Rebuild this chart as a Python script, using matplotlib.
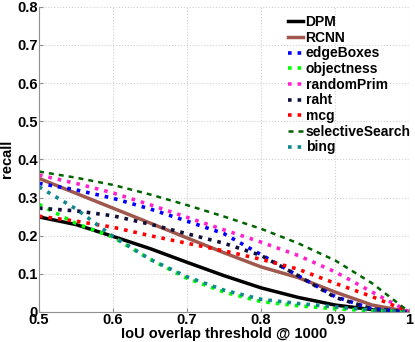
import matplotlib
matplotlib.use("Agg")
import matplotlib.pyplot as plt

plt.rcParams['font.family'] = ['Liberation Sans', 'DejaVu Sans']
plt.rcParams['font.weight'] = 'bold'

# IoU thresholds
iou = [0.5, 0.55, 0.6, 0.65, 0.7, 0.75, 0.8, 0.85, 0.9, 0.95, 1.0]

# recall @ 1000 proposals
dpm = [0.249, 0.229, 0.198, 0.166, 0.130, 0.095, 0.063, 0.038, 0.018, 0.006, 0.0]
rcnn = [0.350, 0.311, 0.272, 0.233, 0.194, 0.155, 0.118, 0.090, 0.052, 0.018, 0.0]
edge_boxes = [0.337, 0.320, 0.298, 0.270, 0.238, 0.205, 0.150, 0.095, 0.040, 0.008, 0.0]
objectness = [0.282, 0.232, 0.196, 0.138, 0.088, 0.052, 0.027, 0.016, 0.008, 0.003, 0.0]
random_prim = [0.359, 0.337, 0.312, 0.281, 0.248, 0.215, 0.183, 0.148, 0.105, 0.052, 0.0]
raht = [0.272, 0.265, 0.252, 0.230, 0.205, 0.180, 0.148, 0.095, 0.038, 0.008, 0.0]
mcg = [0.251, 0.238, 0.222, 0.200, 0.180, 0.160, 0.138, 0.112, 0.075, 0.040, 0.0]
selective_search = [0.368, 0.352, 0.333, 0.308, 0.280, 0.250, 0.218, 0.180, 0.135, 0.075, 0.0]
bing = [0.328, 0.270, 0.198, 0.138, 0.092, 0.057, 0.033, 0.022, 0.013, 0.005, 0.0]

fig = plt.figure(figsize=(4.15, 3.42), dpi=100)
ax = fig.add_axes([0.094, 0.088, 0.892, 0.892])

ax.plot(iou, dpm, color='black', lw=2.5, label='DPM')
ax.plot(iou, rcnn, color='#a0584e', lw=2.5, label='RCNN')
ax.plot(iou, edge_boxes, color='#0000ff', lw=2.6, ls=':', label='edgeBoxes')
ax.plot(iou, objectness, color='#00ff00', lw=2.6, ls=':', label='objectness')
ax.plot(iou, random_prim, color='#ff22cc', lw=2.6, ls=':', label='randomPrim')
ax.plot(iou, raht, color='#10103a', lw=2.6, ls=':', label='raht')
ax.plot(iou, mcg, color='#ff0000', lw=2.6, ls=':', label='mcg')
ax.plot(iou, selective_search, color='#006400', lw=1.8, dashes=(2, 2), label='selectiveSearch')
ax.plot(iou, bing, color='#11878f', lw=2.6, ls=':', label='bing')

ax.set_xlim(0.5, 1.0)
ax.set_ylim(0, 0.8)
ax.set_xticks([0.5, 0.6, 0.7, 0.8, 0.9, 1.0])
ax.set_xticklabels(['0.5', '0.6', '0.7', '0.8', '0.9', '1'])
ax.set_yticks([0, 0.1, 0.2, 0.3, 0.4, 0.5, 0.6, 0.7, 0.8])
ax.set_yticklabels(['0', '0.1', '0.2', '0.3', '0.4', '0.5', '0.6', '0.7', '0.8'])
ax.grid(True, color='#d0d0d0', ls=':', lw=0.8)
for s in ['top', 'right']:
    ax.spines[s].set_visible(False)
for s in ['left', 'bottom']:
    ax.spines[s].set_color('#909090')
ax.tick_params(direction='in', length=3, color='#909090', labelsize=10.5, pad=1)

ax.set_xlabel('IoU overlap threshold @ 1000', fontsize=10.5, fontweight='bold', labelpad=0)
ax.set_ylabel('recall', fontsize=10.5, fontweight='bold', labelpad=2)

ax.legend(loc='upper right', frameon=False, fontsize=10, handlelength=1.1,
          handletextpad=0.15, labelspacing=0.12, borderaxespad=0.3,
          bbox_to_anchor=(1.03, 1.005))

fig.savefig('out.png', dpi=100)
